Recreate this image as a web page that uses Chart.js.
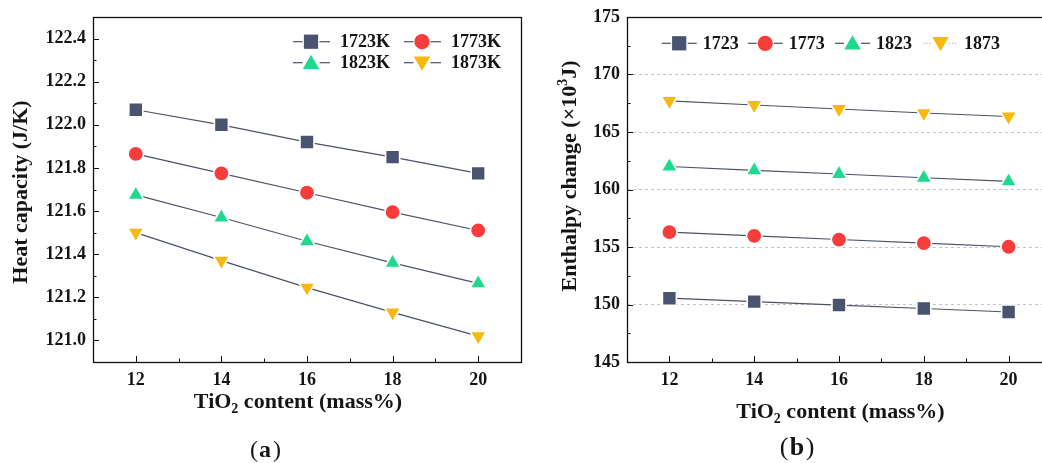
<!DOCTYPE html>
<html>
<head>
<meta charset="utf-8">
<script src="https://cdn.jsdelivr.net/npm/chart.js@4.4.1/dist/chart.umd.min.js"></script>
<style>
  html, body { margin: 0; padding: 0; background: #fff; }
  #wrapA { position: absolute; left: 0; top: 0; width: 533px; height: 463px; }
  #wrapB { position: absolute; left: 520px; top: 0; width: 522px; height: 463px; overflow: hidden; }
</style>
</head>
<body>
<div id="wrapA"><canvas id="heatChart" width="533" height="463"></canvas></div>
<div id="wrapB"><canvas id="enthalpyChart" width="545" height="463"></canvas></div>

<script>
// TiO2 content (mass%)
const tio2 = [12, 14, 16, 18, 20];

// (a) heat capacity, J/K
const heatLabels = ['1723K', '1773K', '1823K', '1873K'];
const heat1723 = [122.07, 122.00, 121.92, 121.85, 121.775];
const heat1773 = [121.865, 121.775, 121.685, 121.595, 121.51];
const heat1823 = [121.675, 121.57, 121.46, 121.36, 121.265];
const heat1873 = [121.50, 121.37, 121.245, 121.13, 121.02];
const heatTicks = [121.0, 121.2, 121.4, 121.6, 121.8, 122.0, 122.2, 122.4];

// (b) enthalpy change, x10^3 J
const enthLabels = ['1723', '1773', '1823', '1873'];
const enth1723 = [150.55, 150.25, 149.95, 149.65, 149.35];
const enth1773 = [156.3, 155.97, 155.65, 155.33, 155.02];
const enth1823 = [162.0, 161.67, 161.35, 161.02, 160.7];
const enth1873 = [167.7, 167.35, 167.0, 166.65, 166.35];
const enthTicks = [145, 150, 155, 160, 165, 170, 175];

const FONT = "'Liberation Serif', 'Times New Roman', serif";
const LINE = '#4b5269';
const markers = [
  { style: 'rect', color: '#4a5470', radius: 9, rotation: 0 },
  { style: 'circle', color: '#f73c3c', radius: 6.8, rotation: 0 },
  { style: 'triangle', color: '#1fd98e', radius: 8.5, rotation: 0 },
  { style: 'triangle', color: '#f7b80f', radius: 8.5, rotation: 180 }
];

// a thin white rim keeps the connecting line just clear of each symbol
function makeSets(labels, series) {
  return series.map((vals, i) => ({
    label: labels[i],
    data: tio2.map((x, j) => ({ x: x, y: vals[j] })),
    showLine: true,
    borderColor: LINE,
    borderWidth: 1.2,
    pointStyle: markers[i].style,
    pointRotation: markers[i].rotation,
    pointRadius: markers[i].radius + 0.9,
    pointHoverRadius: markers[i].radius + 0.9,
    pointBackgroundColor: markers[i].color,
    pointBorderColor: '#ffffff',
    pointBorderWidth: 1.6
  }));
}

function fixBox(size, horizontal) {
  return function (scale) {
    if (horizontal) scale.height = size; else scale.width = size;
    scale.paddingTop = 0; scale.paddingBottom = 0;
    scale.paddingLeft = 0; scale.paddingRight = 0;
  };
}

function seg(ctx, x1, y1, x2, y2) {
  ctx.beginPath(); ctx.moveTo(x1, y1); ctx.lineTo(x2, y2); ctx.stroke();
}

// frame, inward ticks, legend, axis titles and caption
const decor = {
  id: 'decor',
  afterDraw(chart, args, o) {
    const ctx = chart.ctx, a = chart.chartArea;
    const x = chart.scales.x, y = chart.scales.y;
    ctx.save();
    ctx.strokeStyle = '#111';
    ctx.lineWidth = 1.3;
    ctx.strokeRect(Math.round(a.left) + 0.5, Math.round(a.top) + 0.5,
      Math.round(a.right - a.left), Math.round(a.bottom - a.top));
    ctx.lineWidth = 1;
    o.xMajor.forEach(v => { const p = Math.round(x.getPixelForValue(v)) + 0.5; seg(ctx, p, a.bottom, p, a.bottom - 6); });
    o.xMinor.forEach(v => { const p = Math.round(x.getPixelForValue(v)) + 0.5; seg(ctx, p, a.bottom, p, a.bottom - 3.5); });
    o.yMajor.forEach(v => { const p = Math.round(y.getPixelForValue(v)) + 0.5; seg(ctx, a.left, p, a.left + 6, p); });
    o.yMinor.forEach(v => { const p = Math.round(y.getPixelForValue(v)) + 0.5; seg(ctx, a.left, p, a.left + 3.5, p); });

    // legend
    const lg = o.legend;
    ctx.font = 'bold 18px ' + FONT;
    ctx.textBaseline = 'middle';
    ctx.textAlign = 'left';
    chart.data.datasets.forEach((ds, i) => {
      const x0 = lg.xs[i], yc = lg.ys[i];
      const m = markers[i];
      const mx = x0 + lg.markOff;
      ctx.strokeStyle = (lg.faint === i) ? '#c8c8c8' : LINE;
      ctx.setLineDash(lg.faint === i ? [1.5, 1.5] : []);
      ctx.lineWidth = 1.2;
      seg(ctx, x0, yc, mx - lg.gap, yc);
      seg(ctx, mx + lg.gap, yc, x0 + lg.lineLen, yc);
      ctx.setLineDash([]);
      ctx.fillStyle = m.color;
      Chart.helpers.drawPoint(ctx, {
        pointStyle: m.style, rotation: m.rotation, radius: m.radius * 1.12, borderWidth: 0
      }, mx, yc + (m.style === 'triangle' ? (m.rotation ? -1.5 : 1.5) : 0));
      ctx.fillStyle = '#151515';
      ctx.fillText(ds.label, x0 + lg.textOff, yc + 1);
    });

    // x axis title with subscript
    ctx.fillStyle = '#151515';
    ctx.textBaseline = 'alphabetic';
    const big = 'bold 22px ' + FONT, small = 'bold 14px ' + FONT;
    ctx.font = big;
    const w1 = ctx.measureText('TiO').width;
    const w3 = ctx.measureText(' content (mass%)').width;
    ctx.font = small;
    const w2 = ctx.measureText('2').width;
    let tx = o.xTitle.cx - (w1 + w2 + w3) / 2;
    ctx.font = big; ctx.fillText('TiO', tx, o.xTitle.base); tx += w1;
    ctx.font = small; ctx.fillText('2', tx, o.xTitle.base + 5); tx += w2;
    ctx.font = big; ctx.fillText(' content (mass%)', tx, o.xTitle.base);

    // y axis title, rotated
    ctx.save();
    ctx.translate(o.yTitle.cx, o.yTitle.cy);
    ctx.rotate(-Math.PI / 2);
    ctx.textBaseline = 'middle';
    const parts = o.yTitle.parts;
    let total = 0;
    parts.forEach(p => { ctx.font = p.sup ? small : big; total += ctx.measureText(p.t).width; });
    let px = -total / 2;
    parts.forEach(p => {
      ctx.font = p.sup ? small : big;
      ctx.fillText(p.t, px, p.sup ? -7 : 0);
      px += ctx.measureText(p.t).width;
    });
    ctx.restore();

    // panel caption: (a) / (b)
    const c = o.caption;
    ctx.font = c.size + 'px ' + FONT;
    ctx.textAlign = 'center';
    ctx.fillText('(', c.open, c.base);
    ctx.fillText(')', c.close, c.base);
    ctx.font = 'bold ' + c.size + 'px ' + FONT;
    ctx.fillText(c.letter, c.cx, c.base);
    ctx.restore();
  }
};

const tickFont = { family: FONT, size: 18, weight: 'bold' };

function axisX(areaBottomGap) {
  return {
    type: 'linear', min: 11, max: 21,
    afterBuildTicks: s => { s.ticks = tio2.map(v => ({ value: v })); },
    afterFit: fixBox(areaBottomGap, true),
    grid: { display: false, drawTicks: false },
    border: { display: false },
    ticks: { font: tickFont, color: '#151515', padding: 8 }
  };
}

// (a) heat capacity
new Chart(document.getElementById('heatChart'), {
  type: 'scatter',
  data: { datasets: makeSets(heatLabels, [heat1723, heat1773, heat1823, heat1873]) },
  plugins: [decor],
  options: {
    responsive: false,
    animation: false,
    layout: { padding: { left: 0, top: 17, right: 12, bottom: 0 } },
    plugins: {
      legend: { display: false },
      tooltip: { enabled: false },
      decor: {
        xMajor: tio2, xMinor: [13, 15, 17, 19],
        yMajor: heatTicks, yMinor: [121.1, 121.3, 121.5, 121.7, 121.9, 122.1, 122.3],
        legend: {
          xs: [293, 404, 293, 404], ys: [41.7, 41.7, 62.7, 62.7],
          markOff: 18, gap: 8.5, lineLen: 37, textOff: 47, faint: -1
        },
        xTitle: { cx: 298, base: 408 },
        yTitle: { cx: 21, cy: 192, parts: [{ t: 'Heat capacity (J/K)' }] },
        caption: { letter: 'a', size: 24, cx: 265, open: 254, close: 277, base: 457 }
      }
    },
    scales: {
      x: axisX(101),
      y: {
        type: 'linear', min: 120.9, max: 122.5,
        afterBuildTicks: s => { s.ticks = heatTicks.map(v => ({ value: v })); },
        afterFit: fixBox(93, false),
        grid: { display: false, drawTicks: false },
        border: { display: false },
        ticks: { font: tickFont, color: '#151515', padding: 7, callback: v => v.toFixed(1) }
      }
    }
  }
});

// (b) enthalpy change
new Chart(document.getElementById('enthalpyChart'), {
  type: 'scatter',
  data: { datasets: makeSets(enthLabels, [enth1723, enth1773, enth1823, enth1873]) },
  plugins: [decor],
  options: {
    responsive: false,
    animation: false,
    layout: { padding: { left: 0, top: 17, right: 14, bottom: 0 } },
    plugins: {
      legend: { display: false },
      tooltip: { enabled: false },
      decor: {
        xMajor: tio2, xMinor: [13, 15, 17, 19],
        yMajor: enthTicks, yMinor: [147.5, 152.5, 157.5, 162.5, 167.5, 172.5],
        legend: {
          xs: [141.7, 227.7, 315, 403], ys: [43.3, 43.3, 43.3, 43.3],
          markOff: 17.5, gap: 8.5, lineLen: 35, textOff: 41, faint: 3
        },
        xTitle: { cx: 320.5, base: 418 },
        yTitle: { cx: 50, cy: 176, parts: [{ t: 'Enthalpy change (\u00d710' }, { t: '3', sup: true }, { t: 'J)' }] },
        caption: { letter: 'b', size: 26, cx: 277, open: 264, close: 290, base: 455 }
      }
    },
    scales: {
      x: axisX(101),
      y: {
        type: 'linear', min: 145, max: 175,
        afterBuildTicks: s => { s.ticks = enthTicks.map(v => ({ value: v })); },
        afterFit: fixBox(107, false),
        grid: {
          drawTicks: false,
          lineWidth: 1,
          color: c => (c.tick && c.tick.value > 145 && c.tick.value < 175) ? '#c4c4c4' : 'rgba(0,0,0,0)'
        },
        border: { display: false, dash: [3, 3] },
        ticks: { font: tickFont, color: '#151515', padding: 7 }
      }
    }
  }
});
</script>
</body>
</html>
